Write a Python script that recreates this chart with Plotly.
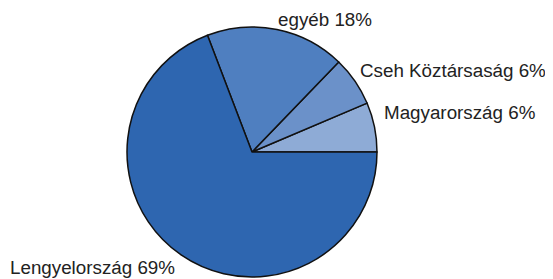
import plotly.graph_objects as go

labels = ["Magyarország", "Cseh Köztársaság", "egyéb", "Lengyelország"]
values = [6.4, 6.4, 18.0, 69.2]
shown_pct = ["6%", "6%", "18%", "69%"]
colors = ["#8eabd6", "#6b91c9", "#4f7fc0", "#2e66b0"]

W, H = 545, 271  # page body has an 8px margin
first_deg = values[0] / sum(values) * 360

fig = go.Figure(go.Pie(
    labels=labels, values=values, sort=False,
    direction="counterclockwise", rotation=90 - first_deg,
    marker=dict(colors=colors, line=dict(color="#111111", width=1.5)),
    textinfo="none", hoverinfo="label+percent", showlegend=False,
    domain=dict(x=[119/W, 369/W], y=[2/H, 252/H]),
))

label_pos = [(374, 104), (350, 63), (268, 11), (0, 259)]
for (px, py), lab, pct in zip(label_pos, labels, shown_pct):
    fig.add_annotation(x=px/W, y=1 - py/H, xref="paper", yref="paper",
                       text=f"{lab} {pct}", showarrow=False, xanchor="left", yanchor="middle",
                       font=dict(family="Liberation Sans, Arial, sans-serif", size=18.8, color="#222222"))

fig.update_layout(width=W, height=H, margin=dict(l=0, r=0, t=0, b=0),
                  paper_bgcolor="white", plot_bgcolor="white")
fig.write_html("out.html")
